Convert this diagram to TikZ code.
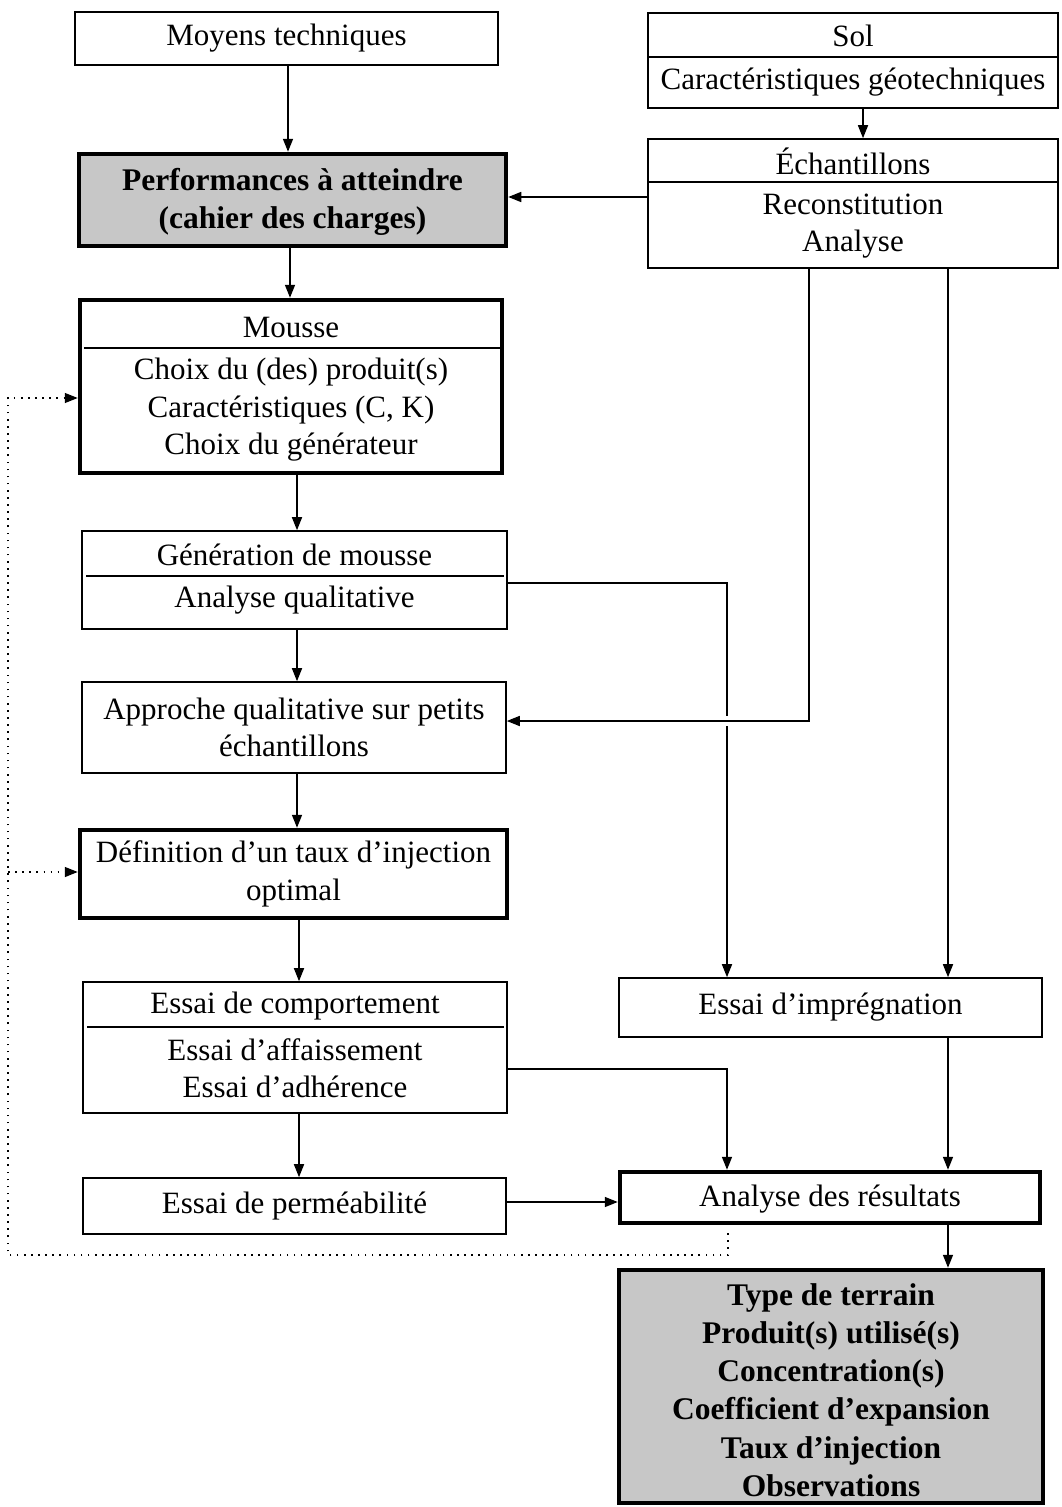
\documentclass[tikz,border=0pt]{standalone}
\usepackage{fontspec}
\setmainfont{Liberation Serif}
\usetikzlibrary{arrows.meta,calc}
\begin{document}
\begin{tikzpicture}[x=1pt,y=-1pt,
  box/.style={draw, line width=1.6pt, inner sep=0pt, align=center,
    font=\fontsize{31}{37.5}\selectfont},
  thickbox/.style={box, line width=4.5pt},
  shaded/.style={fill=black!22},
  txt/.style={inner sep=0pt, align=center, font=\fontsize{31}{37.5}\selectfont},
  boldtxt/.style={txt, font=\fontsize{31.5}{38.3}\selectfont\bfseries},
  sep/.style={line width=2pt},
  link/.style={line width=1.6pt},
  arr/.style={link, -{Triangle[length=13pt,width=10pt]}},
  fb/.style={line width=1.4pt, dash pattern=on 1.6pt off 5.5pt, -{Triangle[length=13pt,width=10pt]}}
]
\useasboundingbox (0,0) rectangle (1061,1507);

% ---------- left column ----------
\node[box, minimum width=423pt, minimum height=53pt] (moyens) at (286.5,38.5) {Moyens techniques};

\node[thickbox, shaded, minimum width=427pt, minimum height=92pt] (perf) at (292.5,200) {};
\node[boldtxt] (perftxt) at (292.5,202) {Performances à atteindre\\(cahier des charges)};

\node[thickbox, minimum width=422pt, minimum height=173pt] (mousse) at (291,386.5) {};
\node[txt] (moussetitle) at (291,327) {Mousse};
\draw[sep] ($(mousse.west |- 0,348)+(6,0)$) -- ($(mousse.east |- 0,348)+(-4,0)$);
\node[txt] (moussebody) at (291,410) {Choix du (des) produit(s)\\Caractéristiques (C, K)\\Choix du générateur};

\node[box, minimum width=425pt, minimum height=98pt] (gen) at (294.5,580) {};
\node[txt] (gentitle) at (294.5,555) {Génération de mousse};
\draw[sep] ($(gen.west |- 0,576)+(5,0)$) -- ($(gen.east |- 0,576)+(-4,0)$);
\node[txt] (genbody) at (294.5,600) {Analyse qualitative};

\node[box, minimum width=424pt, minimum height=91pt] (appr) at (294,727.5) {Approche qualitative sur petits\\échantillons};

\node[thickbox, minimum width=427pt, minimum height=88pt] (defin) at (293.5,874) {Définition d’un taux d’injection\\optimal};

\node[box, minimum width=424pt, minimum height=131pt] (comp) at (295,1047.5) {};
\node[txt] (comptitle) at (295,1006) {Essai de comportement};
\draw[sep] ($(comp.west |- 0,1027)+(5,0)$) -- ($(comp.east |- 0,1027)+(-4,0)$);
\node[txt] (compbody) at (295,1068) {Essai d’affaissement\\Essai d’adhérence};

\node[box, minimum width=423pt, minimum height=56pt] (perm) at (294.5,1206) {Essai de perméabilité};

% ---------- right column ----------
\node[box, minimum width=410pt, minimum height=95pt] (sol) at (853,60.5) {};
\node[txt] (soltitle) at (853,36) {Sol};
\draw[link] (sol.west |- 0,57) -- (sol.east |- 0,57);
\node[txt] (solbody) at (853,82) {Caractéristiques géotechniques};

\node[box, minimum width=410pt, minimum height=129pt] (ech) at (853,203.5) {};
\node[txt] (echtitle) at (853,161) {Échantillons};
\draw[link] (ech.west |- 0,182) -- (ech.east |- 0,182);
\node[txt] (echbody) at (853,226) {Reconstitution\\Analyse};

\node[box, minimum width=423pt, minimum height=59pt] (impr) at (830.5,1007.5) {Essai d’imprégnation};

\node[thickbox, minimum width=420pt, minimum height=51pt] (analyse) at (830,1197.5) {};
\node[txt] (analysetxt) at (830,1199) {Analyse des résultats};

\node[thickbox, shaded, minimum width=424pt, minimum height=233pt] (final) at (831,1386.5) {};
\node[boldtxt] (finaltxt) at (831,1390) {Type de terrain\\Produit(s) utilisé(s)\\Concentration(s)\\Coefficient d’expansion\\Taux d’injection\\Observations};

% ---------- helper coordinates ----------
\coordinate (xa) at (288,0);
\coordinate (xb) at (290,0);
\coordinate (xc) at (297,0);
\coordinate (xd) at (299,0);
\coordinate (xs) at (863,0);
\coordinate (ye) at (0,197);
\coordinate (x809) at (809,0);
\coordinate (x948) at (948,0);
\coordinate (x727) at (727,0);
\coordinate (yg) at (0,583);
\coordinate (ya) at (0,721);
\coordinate (yc) at (0,1069);
\coordinate (yp) at (0,1202);
\coordinate (d1) at (728,1255);
\coordinate (d2) at (8,1255);
\coordinate (d3) at (8,398);
\coordinate (d4) at (8,872);

% ---------- connectors ----------
\draw[arr] (moyens.south -| xa) -- (perf.north -| xa);
\draw[arr] (perf.south -| xb) -- (mousse.north -| xb);
\draw[arr] (mousse.south -| xc) -- (gen.north -| xc);
\draw[arr] (gen.south -| xc) -- (appr.north -| xc);
\draw[arr] (appr.south -| xc) -- (defin.north -| xc);
\draw[arr] (defin.south -| xd) -- (comp.north -| xd);
\draw[arr] (comp.south -| xd) -- (perm.north -| xd);

\draw[arr] (sol.south -| xs) -- (ech.north -| xs);
\draw[arr] (ech.west |- ye) -- (perf.east |- ye);

\draw[arr] (gen.east |- yg) -| (impr.north -| x727);
\fill[white] (722,716) rectangle (732,726);
\draw[arr] (ech.south -| x809) |- (appr.east |- ya);
\draw[arr] (ech.south -| x948) -- (impr.north -| x948);

\draw[arr] (comp.east |- yc) -| (analyse.north -| x727);
\draw[arr] (impr.south -| x948) -- (analyse.north -| x948);
\draw[arr] (perm.east |- yp) -- (analyse.west |- yp);
\draw[arr] (analyse.south -| x948) -- (final.north -| x948);

\draw[fb] ($(analyse.south -| d1)+(0,8)$) -- (d1) -- (d2) -- (d3) -- (mousse.west |- d3);
\draw[fb] (d4) -- (defin.west |- d4);
\end{tikzpicture}
\end{document}
